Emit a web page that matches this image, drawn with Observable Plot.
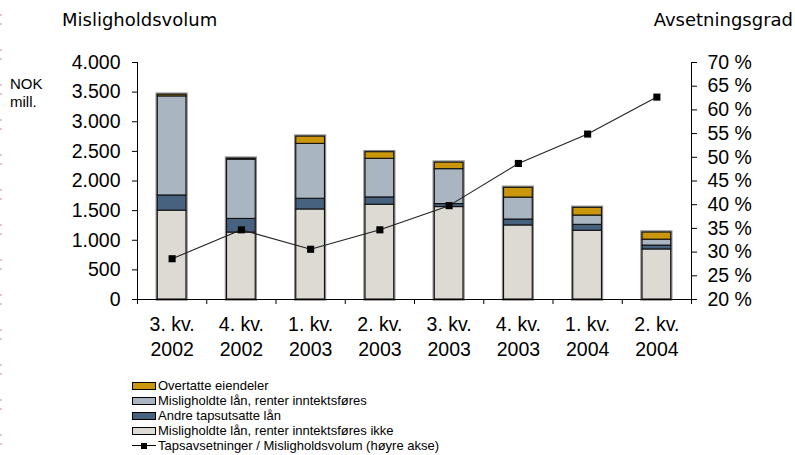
<!DOCTYPE html>
<html>
<head>
<meta charset="utf-8">
<script src="https://cdn.jsdelivr.net/npm/d3@7"></script>
<script src="https://cdn.jsdelivr.net/npm/@observablehq/plot@0.6"></script>
<style>
  html, body { margin: 0; padding: 0; background: #fff; }
  #wrap { position: relative; width: 795px; height: 455px; overflow: hidden; font-family: "Liberation Sans", Arial, sans-serif; }
  #wrap svg { position: absolute; left: 0; top: 0; }
  .edge { position: absolute; left: 0; top: 0; width: 2px; height: 455px;
    background: repeating-linear-gradient(to bottom, transparent 0px, transparent 14px, #e6c3d2 14px, #e6c3d2 16px, transparent 16px, transparent 23px, #e6c3d2 23px, #e6c3d2 25px, transparent 25px, transparent 35px); }
  .ttl { position: absolute; font-family: "DejaVu Sans", Verdana, sans-serif; font-size: 18px; color: #000; white-space: nowrap; }
  .unit { position: absolute; left: 10px; top: 75px; font-size: 15px; line-height: 18px; color: #000; }
  .legend { position: absolute; left: 132px; top: 378px; font-size: 13px; color: #000; }
  .legend .row { height: 15px; line-height: 15px; display: flex; align-items: center; white-space: nowrap; }
  .legend .sw { width: 24px; border: 1px solid #000; margin-right: 2px; box-sizing: border-box; height: 8px; }
  .legend .ln { width: 24px; height: 8px; margin-right: 2px; position: relative; }
  .legend .ln::before { content: ""; position: absolute; left: 0; right: 0; top: 3.5px; height: 1px; background: #000; }
  .legend .ln::after { content: ""; position: absolute; left: 9px; top: 1px; width: 6px; height: 6px; background: #000; }
</style>
</head>
<body>
<div id="wrap"></div>
<script>
// ---- data ----
const quarters = ["3. kv.", "4. kv.", "1. kv.", "2. kv.", "3. kv.", "4. kv.", "1. kv.", "2. kv."];
const years    = ["2002", "2002", "2003", "2003", "2003", "2003", "2004", "2004"];
const seriesNames = [
  "Misligholdte lån, renter inntektsføres ikke",
  "Andre tapsutsatte lån",
  "Misligholdte lån, renter inntektsføres",
  "Overtatte eiendeler"
];
const renterIkke   = [1500, 1130, 1520, 1600, 1560, 1250, 1160, 845];
const andreTaps    = [ 256,  230,  180,  123,   50,  100,  100,  65];
const renterInnt   = [1672, 1000,  926,  652,  590,  370,  157, 100];
const overtatte    = [  28,   17,  123,  111,  110,  165,  130, 120];
const tapsavsetningPct = [28.6, 34.7, 30.6, 34.7, 39.8, 48.7, 54.9, 62.7];
const leftTicks  = [0, 500, 1000, 1500, 2000, 2500, 3000, 3500, 4000];
const rightTicks = [20, 25, 30, 35, 40, 45, 50, 55, 60, 65, 70];
const colors = ["#DDDAD3", "#46627E", "#A9B6C1", "#C9960C"];

// ---- build ----
const seriesValues = [renterIkke, andreTaps, renterInnt, overtatte];
const rects = [];
const totals = [];
quarters.forEach((q, i) => {
  let acc = 0;
  seriesValues.forEach((vals, s) => {
    rects.push({i, s, y1: acc, y2: acc + vals[i], series: seriesNames[s]});
    acc += vals[i];
  });
  totals.push({i, total: acc});
});
const half = 0.207;
const pctToY = p => (p - 20) * 80; // right axis 20–70 % mapped onto 0–4000
const cats = quarters.map((q, i) => ({i, q, y: years[i]}));
const linePts = tapsavsetningPct.map((p, i) => ({i, p}));
const fmt = d3.formatLocale({decimal: ",", thousands: ".", grouping: [3], currency: ["", ""]}).format(",");

const plot = Plot.plot({
  width: 795,
  height: 455,
  marginLeft: 137,
  marginRight: 104,
  marginTop: 62,
  marginBottom: 156,
  style: {fontFamily: "Liberation Sans, Arial, sans-serif", fontSize: "19.5px", color: "#000", background: "transparent", overflow: "visible"},
  x: {domain: [0, 8], axis: null},
  y: {domain: [0, 4000], axis: null},
  color: {domain: seriesNames, range: colors},
  marks: [
    Plot.rectY(totals, {x1: d => d.i + 0.5 - half, x2: d => d.i + 0.5 + half, y1: 0, y2: "total", fill: "none", stroke: "#8a8a8a", strokeWidth: 3.5}),
    Plot.rectY(rects, {x1: d => d.i + 0.5 - half, x2: d => d.i + 0.5 + half, y1: "y1", y2: "y2", fill: "series", stroke: "#111", strokeWidth: 1.1}),
    Plot.axisY({ticks: leftTicks, tickFormat: fmt, tickSize: 5, tickPadding: 12, anchor: "left", label: null}),
    Plot.axisY({ticks: rightTicks.map(pctToY), tickFormat: d => `${Math.round(d / 80 + 20)} %`, tickSize: 5, tickPadding: 11, anchor: "right", label: null}),
    Plot.axisX({ticks: d3.range(0, 9), tickFormat: () => "", tickSize: 5, label: null, anchor: "bottom"}),
    Plot.ruleX([0], {stroke: "#000"}),
    Plot.ruleX([8], {stroke: "#000"}),
    Plot.ruleY([0], {stroke: "#000"}),
    Plot.text(cats, {x: d => d.i + 0.5, text: "q", frameAnchor: "bottom", dy: 31, fill: "#000"}),
    Plot.text(cats, {x: d => d.i + 0.5, text: "y", frameAnchor: "bottom", dy: 56, fill: "#000"}),
    Plot.line(linePts, {x: d => d.i + 0.5, y: d => pctToY(d.p), stroke: "#222", strokeWidth: 1.1}),
    Plot.dot(linePts, {x: d => d.i + 0.5, y: d => pctToY(d.p), symbol: "square", r: 4, fill: "#000", stroke: "none"})
  ]
});

const wrap = document.getElementById("wrap");
wrap.appendChild(plot);

const edge = document.createElement("div"); edge.className = "edge"; wrap.appendChild(edge);

const t1 = document.createElement("div");
t1.className = "ttl"; t1.style.left = "62px"; t1.style.top = "9px"; t1.textContent = "Misligholdsvolum";
wrap.appendChild(t1);
const t2 = document.createElement("div");
t2.className = "ttl"; t2.style.right = "2px"; t2.style.top = "9px"; t2.textContent = "Avsetningsgrad";
wrap.appendChild(t2);
const u = document.createElement("div");
u.className = "unit"; u.innerHTML = "NOK<br>mill.";
wrap.appendChild(u);

const leg = document.createElement("div");
leg.className = "legend";
[3, 2, 1, 0].forEach(s => {
  const r = document.createElement("div"); r.className = "row";
  const sw = document.createElement("span"); sw.className = "sw"; sw.style.background = colors[s];
  const tx = document.createElement("span"); tx.textContent = seriesNames[s];
  r.appendChild(sw); r.appendChild(tx); leg.appendChild(r);
});
const r = document.createElement("div"); r.className = "row";
const ln = document.createElement("span"); ln.className = "ln";
const tx = document.createElement("span"); tx.textContent = "Tapsavsetninger / Misligholdsvolum (høyre akse)";
r.appendChild(ln); r.appendChild(tx); leg.appendChild(r);
wrap.appendChild(leg);
</script>
</body>
</html>
